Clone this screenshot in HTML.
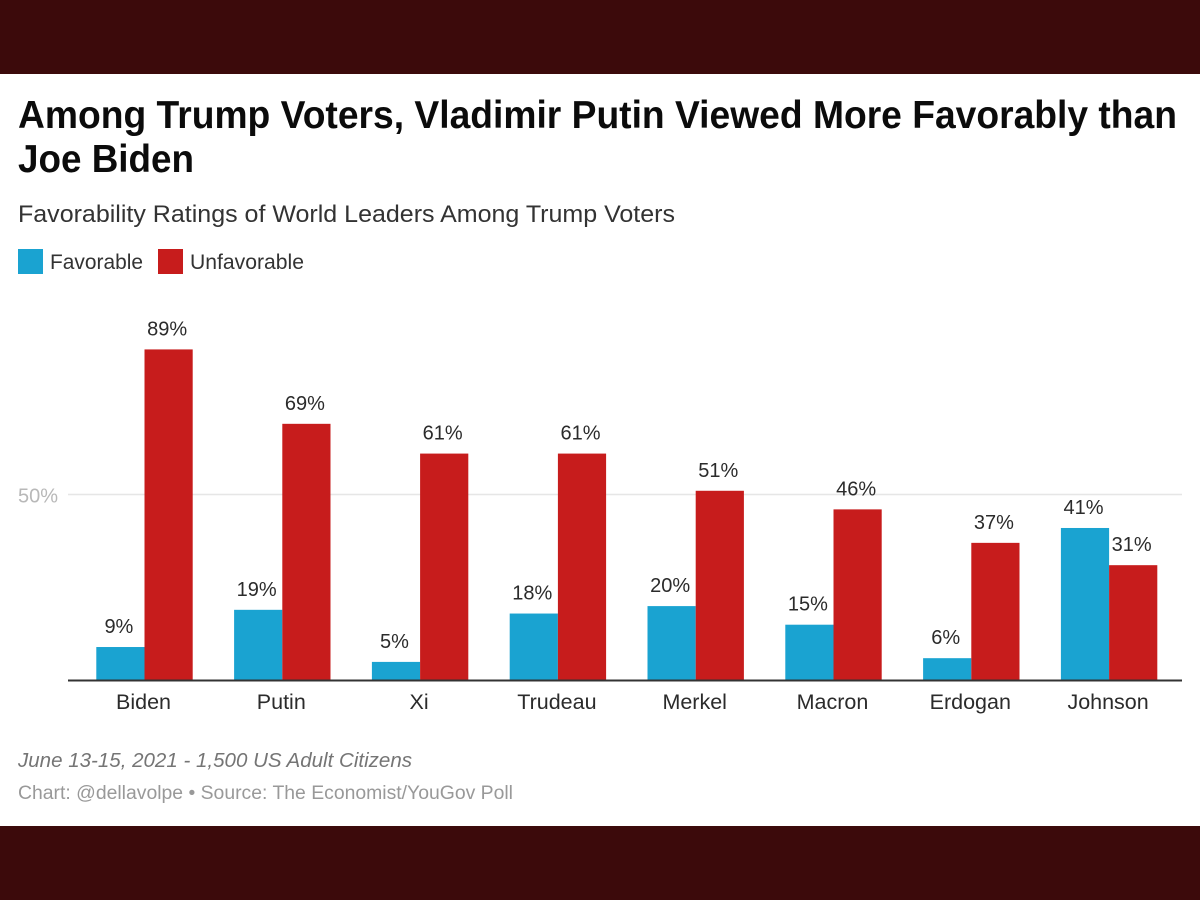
<!DOCTYPE html>
<html lang="en">
<head>
<meta charset="utf-8">
<title>Among Trump Voters, Vladimir Putin Viewed More Favorably than Joe Biden</title>
<style>
  html, body { margin: 0; padding: 0; width: 1200px; height: 900px; background: #3c0a0b; overflow: hidden; }
  svg { display: block; }
  text { font-family: "Liberation Sans", sans-serif; }
</style>
</head>
<body>
<svg id="chart" xmlns="http://www.w3.org/2000/svg" width="1200" height="900" viewBox="0 0 1200 900">
  <rect x="0" y="0" width="1200" height="74" fill="#3c0a0b"/>
  <rect x="0" y="74" width="1200" height="752" fill="#ffffff"/>
  <rect x="0" y="826" width="1200" height="74" fill="#3c0a0b"/>

  <text x="18" y="128" font-size="38.5" font-weight="700" fill="#0b0b0b" textLength="1159" lengthAdjust="spacingAndGlyphs">Among Trump Voters, Vladimir Putin Viewed More Favorably than</text>
  <text x="18" y="172" font-size="38.5" font-weight="700" fill="#0b0b0b" textLength="176" lengthAdjust="spacingAndGlyphs">Joe Biden</text>
  <text x="18" y="222" font-size="24" fill="#333333" textLength="657" lengthAdjust="spacingAndGlyphs">Favorability Ratings of World Leaders Among Trump Voters</text>

  <rect x="18" y="249" width="25" height="25" fill="#1aa3d1"/>
  <text x="50" y="269" font-size="21" fill="#333333" textLength="93" lengthAdjust="spacingAndGlyphs">Favorable</text>
  <rect x="158" y="249" width="25" height="25" fill="#c71c1c"/>
  <text x="190" y="269" font-size="21" fill="#333333" textLength="114" lengthAdjust="spacingAndGlyphs">Unfavorable</text>

  <g id="plot"></g>

  <text x="18" y="767" font-size="20" font-style="italic" fill="#757575" textLength="394" lengthAdjust="spacingAndGlyphs">June 13-15, 2021 - 1,500 US Adult Citizens</text>
  <text x="18" y="799" font-size="19" fill="#999999" textLength="495" lengthAdjust="spacingAndGlyphs">Chart: @dellavolpe • Source: The Economist/YouGov Poll</text>
</svg>
<script>
const categories = ["Biden", "Putin", "Xi", "Trudeau", "Merkel", "Macron", "Erdogan", "Johnson"];
const favorable = [9, 19, 5, 18, 20, 15, 6, 41];
const unfavorable = [89, 69, 61, 61, 51, 46, 37, 31];
const yTicks = [50];

const NS = "http://www.w3.org/2000/svg";
const plot = document.getElementById("plot");
const baseY = 680.5, pxPerUnit = 3.72;
const plotLeft = 68, plotRight = 1182;
const firstCenter = 144.5, groupStep = 137.8, barW = 48.2;

function yScale(v) { return baseY - v * pxPerUnit; }
function xCenter(i) { return firstCenter + i * groupStep; }

function make(tag, attrs, text) {
  const el = document.createElementNS(NS, tag);
  for (const k in attrs) el.setAttribute(k, attrs[k]);
  if (text !== undefined) el.textContent = text;
  plot.appendChild(el);
  return el;
}

yTicks.forEach(function (t) {
  const grid = make("line", { x1: plotLeft, x2: plotRight, y1: yScale(t), y2: yScale(t), stroke: "#e6e6e6", "stroke-width": 1.5 });
  
  
  const tick = make("text", { x: 18, y: yScale(t) + 8, "font-size": 20, fill: "#b8b8b8" }, t + "%");
  
  
});

categories.forEach(function (c, i) {
  const cx = xCenter(i);

  const favBar = make("rect", { x: cx - barW, y: yScale(favorable[i]), width: barW, height: baseY - yScale(favorable[i]), fill: "#1aa3d1" });
  
  

  const unfavBar = make("rect", { x: cx, y: yScale(unfavorable[i]), width: barW, height: baseY - yScale(unfavorable[i]), fill: "#c71c1c" });
  
  

  const favLabel = make("text", { x: cx - barW / 2 - 1.5, y: yScale(favorable[i]) - 14, "font-size": 20, fill: "#2b2b2b", "text-anchor": "middle" }, favorable[i] + "%");
  
  

  const unfavLabel = make("text", { x: cx + barW / 2 - 1.5, y: yScale(unfavorable[i]) - 14, "font-size": 20, fill: "#2b2b2b", "text-anchor": "middle" }, unfavorable[i] + "%");
  
  

  const catLabel = make("text", { x: cx - 1, y: 709, "font-size": 21.5, fill: "#2b2b2b", "text-anchor": "middle" }, c);
  
  
});

const axis = make("line", { x1: plotLeft, x2: plotRight, y1: baseY, y2: baseY, stroke: "#333333", "stroke-width": 2 });


</script>
</body>
</html>
